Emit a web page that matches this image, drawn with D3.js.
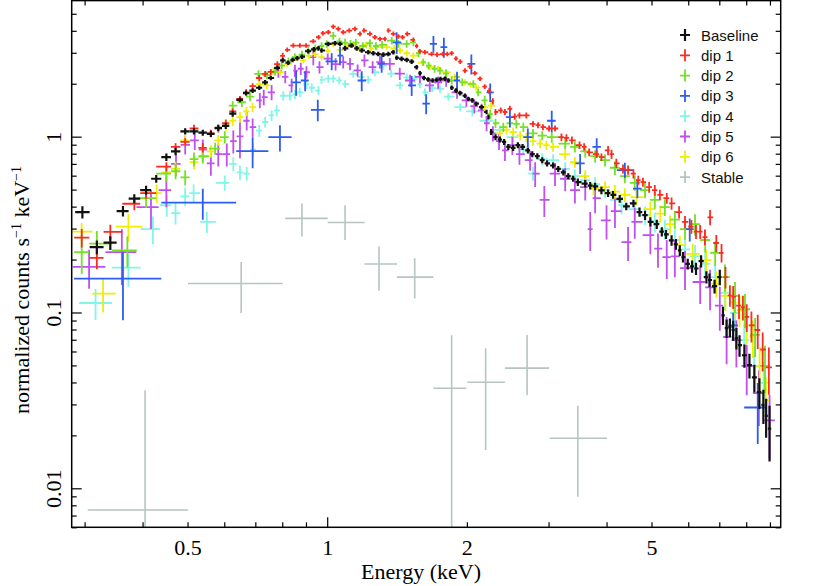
<!DOCTYPE html>
<html><head><meta charset="utf-8">
<script src="https://cdn.jsdelivr.net/npm/d3@7"></script>
<style>body{margin:0;background:#fff}svg{display:block}</style>
</head><body><svg id="c" width="830" height="586"></svg>
<script>
// ---- data: [energy keV, normalized counts, relative error %] ----
const seriesNames = ["Baseline","dip 1","dip 2","dip 3","dip 4","dip 5","dip 6","Stable"];
const seriesColors = ["#111111","#ff2a1f","#74e026","#2d5cf0","#80f6e6","#bf4ff0","#eeee00","#b8c3c3"];

const baseline = [[0.296,0.375,8],[0.318,0.237,9],[0.34,0.251,9],[0.362,0.38,7],[0.383,0.447,6],[0.406,0.50,6],[0.427,0.58,5],[0.449,0.77,5],[0.47,0.83,5],[0.493,1.08,4],[0.515,1.08,4],[0.538,1.06,4],[0.56,1.045,4],[0.581,1.13,4],[0.603,1.16,4],[0.624,1.36,4],[0.647,1.63,3],[0.667,1.78,3],[0.689,1.84,3],[0.712,1.91,3],[0.733,2.05,3],[0.754,2.17,3],[0.779,2.48,3],[0.80,2.73,3],[0.822,2.65,3],[0.84,2.75,3],[0.86,2.81,3],[0.88,2.87,3],[0.908,3.08,3],[0.934,3.16,3],[0.955,3.2,3],[0.97,3.11,3],[1.003,3.39,3],[1.037,3.42,3],[1.063,3.39,3],[1.09,3.2,3],[1.126,3.32,3],[1.155,3.2,3],[1.184,3.11,3],[1.223,3.04,3],[1.254,3.0,3],[1.285,2.97,3],[1.318,2.95,3],[1.351,2.97,3],[1.385,3.04,3],[1.408,2.83,3],[1.443,2.79,3],[1.48,2.75,3],[1.517,2.69,3],[1.555,2.5,3],[1.58,2.31,3],[1.612,2.17,3],[1.646,2.13,3],[1.683,2.1,3],[1.716,2.12,3],[1.75,2.14,3],[1.79,2.15,3],[1.82,2.1,3],[1.85,1.91,3],[1.89,1.84,3],[1.93,1.78,3],[1.976,1.72,3],[2.01,1.65,3],[2.05,1.62,3],[2.09,1.55,3],[2.146,1.48,3],[2.2,1.39,3],[2.22,1.30,3],[2.25,1.07,4],[2.3,1.0,4],[2.35,0.97,4],[2.4,0.94,4],[2.45,0.88,4],[2.51,0.87,4],[2.57,0.90,4],[2.63,0.88,4],[2.7,0.84,4],[2.76,0.80,4],[2.83,0.78,4],[2.9,0.74,4],[2.97,0.71,4],[3.06,0.69,4],[3.14,0.66,4],[3.22,0.63,4],[3.30,0.60,4],[3.38,0.58,4],[3.46,0.555,5],[3.59,0.544,5],[3.68,0.53,5],[3.77,0.525,5],[3.89,0.498,5],[4.02,0.48,5],[4.12,0.47,5],[4.26,0.446,5],[4.4,0.404,5],[4.56,0.42,5],[4.7,0.375,6],[4.83,0.36,6],[4.96,0.33,6],[5.12,0.32,6],[5.25,0.29,6],[5.36,0.28,6],[5.51,0.259,7],[5.63,0.246,7],[5.74,0.227,7],[5.83,0.208,7],[5.97,0.19,7],[6.1,0.184,8],[6.22,0.179,8],[6.38,0.197,8],[6.55,0.16,8],[6.65,0.154,9],[6.82,0.142,9],[7.0,0.16,10],[7.11,0.097,12],[7.24,0.082,12],[7.36,0.083,12],[7.48,0.080,13],[7.6,0.072,14],[7.72,0.0656,14],[7.91,0.0575,15],[8.11,0.0505,16],[8.31,0.043,18],[8.52,0.0355,20],[8.69,0.030,22],[8.81,0.026,25],[8.96,0.022,35]];

const dip1 = [[0.295,0.268,12],[0.318,0.206,14],[0.34,0.289,10],[0.383,0.418,8],[0.406,0.48,7],[0.449,0.68,6],[0.47,0.88,5],[0.493,0.94,5],[0.515,1.12,5],[0.538,0.87,6],[0.56,1.05,5],[0.581,1.12,5],[0.603,1.2,5],[0.624,1.4,4],[0.647,1.65,4],[0.667,1.8,4],[0.689,1.95,4],[0.712,2.17,4],[0.733,2.29,4],[0.754,2.35,4],[0.779,2.6,4],[0.80,2.9,4],[0.818,3.14,3],[0.843,3.32,3],[0.871,3.32,3],[0.898,3.32,3],[0.931,3.51,3],[0.956,3.7,3],[0.976,3.9,3],[1.003,3.95,3],[1.028,4.25,3],[1.054,4.13,3],[1.08,3.95,3],[1.113,4.04,3],[1.145,4.13,3],[1.174,3.87,3],[1.197,4.04,3],[1.233,3.87,3],[1.264,3.7,3],[1.296,3.62,3],[1.329,3.62,3],[1.351,4.04,3],[1.385,3.87,3],[1.42,3.74,3],[1.45,3.7,3],[1.484,3.87,3],[1.53,3.58,3],[1.555,3.3,3],[1.58,3.08,3],[1.62,3.04,3],[1.675,2.97,3],[1.72,2.95,3],[1.77,2.97,3],[1.81,2.97,3],[1.85,3.0,3],[1.89,2.8,3],[1.93,2.69,3],[1.976,2.39,3],[2.026,2.52,3],[2.076,2.31,3],[2.13,2.15,3],[2.18,1.94,3],[2.23,1.83,4],[2.27,1.6,4],[2.3,1.39,4],[2.36,1.42,4],[2.41,1.39,4],[2.47,1.45,4],[2.53,1.31,4],[2.59,1.33,4],[2.68,1.33,4],[2.77,1.19,4],[2.84,1.17,4],[2.91,1.14,4],[3.0,1.12,4],[3.09,1.12,4],[3.19,1.0,5],[3.27,0.99,5],[3.36,0.96,5],[3.49,0.90,5],[3.57,0.88,5],[3.66,0.82,5],[3.8,0.80,5],[3.89,0.77,5],[4.02,0.84,6],[4.09,0.80,6],[4.19,0.71,6],[4.33,0.66,6],[4.44,0.65,6],[4.56,0.62,6],[4.67,0.57,6],[4.78,0.555,6],[4.93,0.52,7],[5.07,0.50,7],[5.2,0.47,7],[5.38,0.45,7],[5.51,0.42,8],[5.72,0.375,8],[5.89,0.33,8],[6.08,0.31,9],[6.22,0.29,9],[6.35,0.29,9],[6.5,0.27,10],[6.67,0.35,10],[6.88,0.25,11],[7.06,0.22,12],[7.2,0.16,14],[7.36,0.126,14],[7.48,0.124,15],[7.7,0.11,16],[7.85,0.108,16],[8.0,0.095,18],[8.19,0.085,20],[8.45,0.08,22],[8.66,0.062,25],[8.93,0.049,30]];

const dip2 = [[0.295,0.222,25],[0.318,0.248,18],[0.37,0.227,20],[0.406,0.45,12],[0.449,0.62,10],[0.47,0.64,10],[0.493,0.59,10],[0.515,0.75,9],[0.538,0.78,9],[0.572,0.86,8],[0.6,1.0,8],[0.624,1.51,6],[0.653,1.58,6],[0.68,1.7,6],[0.709,2.29,5],[0.74,2.25,5],[0.77,2.35,5],[0.796,2.55,5],[0.823,2.7,5],[0.85,2.85,5],[0.88,2.95,5],[0.908,3.11,5],[0.94,3.2,5],[0.97,3.3,5],[0.995,3.39,5],[1.028,3.77,5],[1.06,3.5,5],[1.09,3.45,5],[1.12,3.4,5],[1.15,3.45,5],[1.19,3.3,5],[1.233,3.42,5],[1.27,3.3,5],[1.31,3.35,5],[1.374,3.54,5],[1.42,3.4,5],[1.48,3.39,5],[1.53,3.46,5],[1.57,3.0,5],[1.607,2.67,5],[1.65,2.55,5],[1.7,2.45,5],[1.746,2.39,5],[1.8,2.3,5],[1.85,2.1,5],[1.9,2.2,5],[1.95,2.05,5],[2.06,2.01,5],[2.11,1.8,5],[2.18,1.62,6],[2.24,1.35,6],[2.3,1.2,6],[2.39,1.14,6],[2.47,1.2,6],[2.55,1.19,6],[2.64,1.14,6],[2.77,1.05,6],[2.9,1.02,6],[3.04,1.0,7],[3.25,0.92,7],[3.41,0.88,7],[3.59,0.83,8],[3.77,0.78,8],[3.96,0.74,8],[4.16,0.67,9],[4.37,0.60,9],[4.59,0.55,10],[4.83,0.50,10],[5.07,0.44,11],[5.33,0.40,11],[5.6,0.34,12],[5.89,0.30,13],[6.19,0.32,14],[6.51,0.26,15],[6.84,0.22,16],[7.18,0.16,18],[7.55,0.125,20],[7.93,0.105,22],[8.34,0.075,25],[8.76,0.05,30]];

// dip 3: [energy, value, rel. err %, bin low, bin high]
const dip3 = [[0.362,0.157,42,0.284,0.438],[0.538,0.424,20,0.438,0.635],[0.689,0.833,20,0.635,0.745],[0.789,1.0,17,0.745,0.836],[0.855,2.05,16,0.836,0.875],[0.894,2.1,13,0.875,0.91],[0.952,1.43,14,0.92,0.985],[1.02,2.7,11,0.99,1.05],[1.063,2.91,12,1.05,1.08],[1.184,2.1,13,1.16,1.21],[1.307,2.61,11,1.28,1.33],[1.408,3.46,14,1.38,1.44],[1.517,1.97,13,1.49,1.55],[1.63,1.55,13,1.6,1.66],[1.69,3.39,11,1.66,1.72],[1.78,3.25,13,1.75,1.81],[1.9,2.1,12,1.87,1.93],[2.04,2.61,13,2.0,2.08],[2.24,1.8,12,2.2,2.28],[2.47,1.3,12,2.42,2.52],[2.7,1.0,12,2.64,2.76],[3.04,1.24,14,2.97,3.1],[3.5,0.71,13,3.42,3.58],[3.8,0.88,12,3.72,3.88],[4.37,0.65,10,4.2,4.55],[4.65,0.51,12,4.55,4.75],[6.03,0.30,15,5.92,6.15],[7.48,0.085,18,7.3,7.66],[8.45,0.029,38,7.9,8.85]];

const dip4 = [[0.316,0.114,20],[0.372,0.181,22],[0.42,0.30,18],[0.45,0.41,14],[0.47,0.37,14],[0.493,0.46,12],[0.514,0.48,12],[0.549,0.33,14],[0.60,0.55,10],[0.626,0.705,9],[0.647,0.63,9],[0.669,0.62,9],[0.69,0.85,8],[0.712,1.09,8],[0.733,1.22,7],[0.757,1.33,7],[0.776,1.42,7],[0.802,1.72,6],[0.829,1.72,6],[0.85,1.75,6],[0.871,1.8,6],[0.9,2.0,6],[0.924,1.91,6],[0.955,1.84,6],[0.97,2.12,5],[1.003,2.15,5],[1.028,2.15,5],[1.059,2.1,5],[1.09,2.01,5],[1.135,2.29,5],[1.18,2.2,5],[1.223,2.12,5],[1.264,2.34,5],[1.318,2.55,5],[1.37,2.3,5],[1.432,1.97,5],[1.48,2.19,5],[1.54,2.15,5],[1.58,2.0,5],[1.62,1.80,5],[1.68,1.9,5],[1.746,1.88,5],[1.82,1.7,5],[1.93,1.48,5],[2.05,1.4,6],[2.2,1.24,6],[2.35,1.1,6],[2.51,1.0,6],[2.64,0.85,7],[2.77,0.62,9],[2.9,0.75,8],[3.06,0.74,8],[3.25,0.66,9],[3.41,0.60,9],[3.59,0.57,10],[3.77,0.54,10],[3.96,0.50,10],[4.16,0.44,11],[4.3,0.41,11],[4.59,0.39,12],[4.83,0.36,12],[5.07,0.33,13],[5.33,0.30,13],[5.6,0.26,14],[5.89,0.23,15],[6.19,0.21,16],[6.51,0.19,17],[6.84,0.16,18],[7.18,0.13,20],[7.55,0.10,22],[7.9,0.07,25],[8.3,0.05,28],[8.7,0.04,32]];

const dip5 = [[0.306,0.183,25],[0.36,0.222,35],[0.416,0.40,25],[0.449,0.5,20],[0.471,0.705,15],[0.493,0.905,12],[0.517,0.96,12],[0.538,0.85,14],[0.56,0.71,15],[0.581,0.80,15],[0.606,0.80,15],[0.626,0.95,15],[0.647,1.01,25],[0.669,1.24,12],[0.689,1.14,12],[0.714,1.62,10],[0.728,1.69,10],[0.757,1.80,10],[0.783,2.37,8],[0.81,2.2,8],[0.836,1.97,9],[0.85,2.39,8],[0.875,2.45,8],[0.90,2.34,8],[0.931,2.85,10],[0.96,2.5,8],[1.0,2.8,8],[1.04,2.6,8],[1.08,2.67,8],[1.117,2.61,8],[1.16,2.4,8],[1.2,2.73,8],[1.25,2.5,8],[1.296,2.67,8],[1.361,2.61,8],[1.43,2.3,8],[1.505,2.1,8],[1.58,2.2,8],[1.66,1.97,8],[1.73,2.05,8],[1.8,2.1,8],[1.9,1.8,8],[1.99,1.62,8],[2.07,1.5,9],[2.146,1.42,9],[2.2,1.2,10],[2.27,1.05,10],[2.34,0.95,11],[2.41,0.84,13],[2.5,0.9,12],[2.59,0.80,13],[2.73,0.74,13],[2.8,0.62,16],[2.93,0.44,20],[3.09,0.62,15],[3.25,0.58,15],[3.41,0.50,16],[3.59,0.52,16],[3.68,0.30,25],[3.77,0.45,18],[3.99,0.336,22],[4.16,0.38,20],[4.44,0.253,22],[4.59,0.33,20],[4.96,0.277,22],[5.15,0.232,22],[5.38,0.208,25],[5.6,0.21,24],[5.89,0.18,25],[6.35,0.15,25],[6.67,0.14,26],[7.0,0.11,28],[7.24,0.073,30],[7.6,0.07,30],[8.0,0.05,32],[8.5,0.035,35],[8.96,0.0245,40]];

const dip6 = [[0.295,0.29,12],[0.328,0.129,22],[0.372,0.31,18],[0.428,0.48,12],[0.449,0.63,10],[0.47,0.66,9],[0.493,0.96,7],[0.515,0.72,9],[0.538,0.77,8],[0.56,0.83,8],[0.581,0.96,7],[0.604,1.17,7],[0.624,1.24,7],[0.647,1.3,7],[0.668,1.4,6],[0.689,1.48,6],[0.712,2.0,5],[0.739,1.97,5],[0.764,2.37,5],[0.789,2.34,5],[0.818,2.61,4],[0.857,2.83,4],[0.886,2.73,4],[0.912,2.9,4],[0.939,2.97,4],[0.97,2.85,4],[1.0,3.1,4],[1.028,3.39,4],[1.063,3.14,4],[1.1,3.3,4],[1.135,3.39,4],[1.17,3.2,4],[1.21,3.35,4],[1.24,3.2,4],[1.275,3.25,4],[1.34,3.25,4],[1.39,3.2,4],[1.432,3.11,4],[1.48,3.0,4],[1.53,2.91,4],[1.6,2.65,4],[1.66,2.5,4],[1.73,2.45,4],[1.8,2.34,4],[1.88,2.2,4],[1.976,2.05,4],[2.03,2.0,4],[2.09,1.92,4],[2.18,1.48,5],[2.25,1.51,5],[2.35,1.05,6],[2.43,1.1,6],[2.51,1.07,6],[2.6,1.02,6],[2.68,1.0,6],[2.77,0.95,6],[2.87,0.92,6],[2.96,0.9,6],[3.06,0.88,6],[3.25,0.80,7],[3.41,0.72,7],[3.59,0.60,8],[3.74,0.51,8],[3.96,0.52,8],[4.16,0.49,9],[4.37,0.47,9],[4.63,0.456,10],[4.96,0.39,10],[5.21,0.367,11],[5.47,0.32,12],[5.74,0.243,13],[6.12,0.217,14],[6.55,0.20,15],[6.88,0.147,17],[7.2,0.125,18],[7.5,0.115,19],[7.72,0.104,20],[8.0,0.085,22],[8.25,0.073,24],[8.53,0.05,28],[8.8,0.032,35]];

// Stable: [energy, value, bin low, bin high, upper, lower]
const stable = [[0.404,0.00757,0.304,0.50,0.0363,0],[0.651,0.147,0.50,0.80,0.195,0.10],[0.88,0.345,0.81,1.0,0.42,0.272],[1.09,0.327,1.0,1.2,0.41,0.26],[1.29,0.19,1.2,1.41,0.24,0.134],[1.54,0.16,1.41,1.69,0.205,0.121],[1.85,0.0373,1.69,1.99,0.0746,0],[2.19,0.0404,2.0,2.41,0.063,0.0166],[2.69,0.0486,2.41,3.0,0.075,0.034],[3.46,0.0194,3.01,4.0,0.0297,0.009]];

const xLabelTicks = [0.5,1,2,5];
const xMajorTicks = [1];
const xMinorTicks = [0.3,0.4,0.5,0.6,0.7,0.8,0.9,2,3,4,5,6,7,8,9];
const yLabelTicks = [0.01,0.1,1];
const yMajorTicks = [0.01,0.1,1];
const yMinorTicks = [0.006,0.007,0.008,0.009,0.02,0.03,0.04,0.05,0.06,0.07,0.08,0.09,0.2,0.3,0.4,0.5,0.6,0.7,0.8,0.9,2,3,4,5];
const xDomain = [0.2807,9.47];
const yDomain = [0.00604,5.98];

// ---- layout ----
const L=71.7, R=780.7, T=0.6, B=527.3;
const svg=d3.select("#c");
const x=d3.scaleLog().domain(xDomain).range([L,R]);
const y=d3.scaleLog().domain(yDomain).range([B,T]);

svg.append("defs").append("clipPath").attr("id","pc").append("rect")
  .attr("x",L).attr("y",T).attr("width",R-L).attr("height",B-T);

function contiguous(arr){
  const n=arr.length;
  return arr.map((d,i)=>{
    const le=Math.log10(d[0]);
    const pv=i>0?Math.log10(arr[i-1][0]):null, nx=i<n-1?Math.log10(arr[i+1][0]):null;
    const hl=pv!==null?(le-pv)/2:(nx-le)/2, hr=nx!==null?(nx-le)/2:(le-pv)/2;
    return {e:d[0],v:d[1],lo:10**(le-hl),hi:10**(le+hr),vlo:d[1]*(1-d[2]/100),vhi:d[1]*(1+d[2]/100)};
  });
}
const explicitBins=arr=>arr.map(d=>({e:d[0],v:d[1],lo:d[3],hi:d[4],vlo:d[1]*(1-d[2]/100),vhi:d[1]*(1+d[2]/100)}));
const stableBins=stable.map(d=>({e:d[0],v:d[1],lo:d[2],hi:d[3],vhi:d[4],vlo:d[5]}));

const series=[
  {i:7,pts:stableBins,w:1.6},
  {i:4,pts:contiguous(dip4),w:1.8},
  {i:5,pts:contiguous(dip5),w:1.8},
  {i:6,pts:contiguous(dip6),w:1.8},
  {i:2,pts:contiguous(dip2),w:1.8},
  {i:3,pts:explicitBins(dip3),w:1.8},
  {i:1,pts:contiguous(dip1),w:1.8},
  {i:0,pts:contiguous(baseline),w:2.2}
];
const yc=v=>v<=0?B+20:y(v);
const plot=svg.append("g").attr("clip-path","url(#pc)");
series.forEach(s=>{
  plot.append("g").selectAll("path").data(s.pts).join("path")
    .attr("d",d=>`M${x(d.lo)},${y(d.v)}H${x(d.hi)}M${x(d.e)},${yc(d.vlo)}V${y(d.vhi)}`)
    .attr("fill","none").attr("stroke",seriesColors[s.i]).attr("stroke-width",s.w);
});

// ---- frame and ticks ----
const ax=svg.append("g").attr("stroke","#000").attr("stroke-width",1.2);
ax.append("rect").attr("x",L).attr("y",T).attr("width",R-L).attr("height",B-T)
  .attr("fill","none").attr("stroke-width",1.5);
function xt(vals,len){
  vals.forEach(v=>{
    ax.append("line").attr("x1",x(v)).attr("x2",x(v)).attr("y1",B).attr("y2",B-len);
    ax.append("line").attr("x1",x(v)).attr("x2",x(v)).attr("y1",T).attr("y2",T+len);
  });
}
function yt(vals,len){
  vals.forEach(v=>{
    ax.append("line").attr("y1",y(v)).attr("y2",y(v)).attr("x1",L).attr("x2",L+len);
    ax.append("line").attr("y1",y(v)).attr("y2",y(v)).attr("x1",R).attr("x2",R-len);
  });
}
xt(xMinorTicks,5); xt(xMajorTicks,10);
yt(yMinorTicks,5); yt(yMajorTicks,10);

const serif="'Liberation Serif','Times New Roman',serif";
svg.append("g").selectAll("text").data(xLabelTicks).join("text")
  .attr("x",d=>x(d)).attr("y",555).attr("text-anchor","middle")
  .attr("font-family",serif).attr("font-size",22).text(d=>d);
svg.append("g").selectAll("text").data(yLabelTicks).join("text")
  .attr("transform",d=>`translate(61,${y(d)}) rotate(-90)`).attr("text-anchor","middle")
  .attr("font-family",serif).attr("font-size",22).text(d=>d);

svg.append("text").attr("x",421).attr("y",579).attr("text-anchor","middle")
  .attr("font-family",serif).attr("font-size",22).text("Energy (keV)");
const yl=svg.append("text").attr("transform","translate(29,290) rotate(-90)").attr("text-anchor","middle")
  .attr("font-family",serif).attr("font-size",22);
yl.append("tspan").text("normalized counts s");
yl.append("tspan").attr("dy",-8).attr("font-size",14).text("−1");
yl.append("tspan").attr("dy",8).text(" keV");
yl.append("tspan").attr("dy",-8).attr("font-size",14).text("−1");

// ---- legend ----
const lg=svg.append("g").selectAll("g").data(seriesNames).join("g")
  .attr("transform",(d,i)=>`translate(685,${35+i*20.3})`);
lg.append("path").attr("d","M-5,0H5M0,-6V6").attr("stroke",(d,i)=>seriesColors[i]).attr("stroke-width",(d,i)=>i===0?2.2:1.8);
lg.append("text").attr("x",16).attr("y",5.5).attr("font-family","'Liberation Sans',Arial,sans-serif")
  .attr("font-size",15).attr("fill","#111").text(d=>d);
</script></body></html>
